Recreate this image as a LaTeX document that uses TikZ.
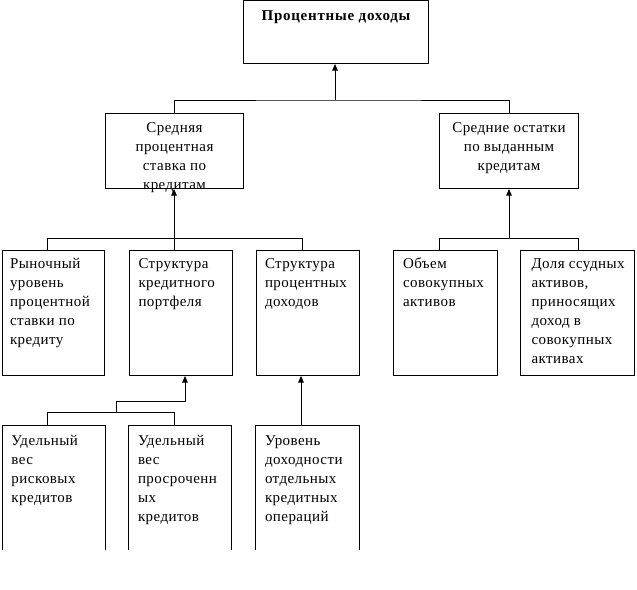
\documentclass[tikz,border=0pt]{standalone}
\usepackage{fontspec}
\setmainfont{Liberation Serif}[LetterSpace=3]
\newfontfamily\titlefont{Liberation Serif}[LetterSpace=5]
\usetikzlibrary{arrows.meta}
\newcommand{\tbox}[4]{\parbox[t][#2][t]{#1}{\vspace*{#3}#4}}
\begin{document}
\begin{tikzpicture}[x=1pt,y=-1pt,line width=1pt,
  box/.style={draw, inner sep=0pt, anchor=north west, font=\fontsize{15}{19}\selectfont},
  openbox/.style={box, draw=none},
  arr/.style={-{Triangle[width=5.5pt,length=6.5pt]}}]
\useasboundingbox (0,0) rectangle (637,589);
% boxes
\node[box] (top) at (243,0) {\tbox{185pt}{63pt}{6.5pt}{\centering\titlefont\bfseries\strut Процентные доходы}};
\node[box] (s1) at (105,113) {\tbox{138pt}{75pt}{5.7pt}{\centering\strut Средняя\\ процентная\\ ставка по\\ кредитам}};
\node[box] (s2) at (439,113) {\tbox{139pt}{75pt}{5.7pt}{\centering\strut Средние остатки\\ по выданным\\ кредитам}};
\node[box] (a) at (2,250) {\tbox{102pt}{125pt}{4.7pt}{\raggedright\leftskip=7.5pt\strut Рыночный\\ уровень\\ процентной\\ ставки по\\ кредиту}};
\node[box] (b) at (129,250) {\tbox{103pt}{125pt}{4.7pt}{\raggedright\leftskip=9pt\strut Структура\\ кредитного\\ портфеля}};
\node[box] (c) at (256,250) {\tbox{103pt}{125pt}{4.7pt}{\raggedright\leftskip=8.5pt\strut Структура\\ процентных\\ доходов}};
\node[box] (d) at (393,250) {\tbox{104pt}{125pt}{4.7pt}{\raggedright\leftskip=9.5pt\strut Объем\\ совокупных\\ активов}};
\node[box] (e) at (520,250) {\tbox{114pt}{125pt}{4.7pt}{\raggedright\leftskip=11pt\strut Доля ссудных\\ активов,\\ приносящих\\ доход в\\ совокупных\\ активах}};
\node[openbox] (f) at (2,425) {\tbox{102pt}{124pt}{6.2pt}{\raggedright\leftskip=9pt\strut Удельный\\ вес\\ рисковых\\ кредитов}};
\node[openbox] (g) at (128,425) {\tbox{102pt}{124pt}{6.2pt}{\raggedright\leftskip=9.5pt\strut Удельный\\ вес\\ просроченн\\ ых\\ кредитов}};
\node[openbox] (h) at (255,425) {\tbox{103pt}{124pt}{6.2pt}{\raggedright\leftskip=9.5pt\strut Уровень\\ доходности\\ отдельных\\ кредитных\\ операций}};
\foreach \n in {f,g,h}
  \draw (\n.south west) -- (\n.north west) -- (\n.north east) -- (\n.south east);
% connectors level 1
\coordinate (j1) at (335,100);
\draw (s1.north) |- (j1) -| (s2.north);
\draw[arr] (j1) -- (j1 |- top.south);
% level 2 left
\coordinate (j2) at (174,238);
\coordinate (ja) at (47,238);
\coordinate (jc) at (302,238);
\draw (ja |- a.north) -- (ja) -- (jc) -- (jc |- c.north);
\draw (j2) -- (j2 |- b.north);
\draw[arr] (j2) -- (j2 |- s1.south);
% level 2 right
\coordinate (j3) at (509,238);
\coordinate (jd) at (439,238);
\coordinate (je) at (578,238);
\draw (jd |- d.north) -- (jd) -- (je) -- (je |- e.north);
\draw[arr] (j3) -- (j3 |- s2.south);
% level 3
\coordinate (j4) at (185,401);
\coordinate (j5) at (116,401);
\coordinate (j6) at (116,412);
\coordinate (jf) at (47,412);
\coordinate (jg) at (174,412);
\draw (jf |- f.north) -- (jf) -- (jg) -- (jg |- g.north);
\draw[arr] (j6) -- (j5) -- (j4) -- (j4 |- b.south);
\coordinate (jh) at (301,400);
\draw[arr] (jh |- h.north) -- (jh |- c.south);
\end{tikzpicture}
\end{document}
